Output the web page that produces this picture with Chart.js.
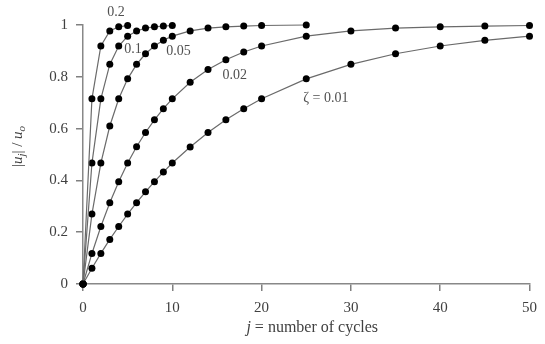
<!DOCTYPE html>
<html><head><meta charset="utf-8">
<script src="https://cdn.jsdelivr.net/npm/chart.js@4/dist/chart.umd.min.js"></script>
<style>html,body{margin:0;padding:0;background:#fff}</style>
</head><body>
<canvas id="c" width="545" height="344"></canvas>
<script>
// cycles j and |u_j|/u_o values
const j02 = [0,1,2,3,4,5];
const v02 = [0,0.715,0.919,0.977,0.993,0.998];
const j01 = [0,1,2,3,4,5,6,7,8,9,10];
const v01 = [0,0.467,0.715,0.848,0.919,0.957,0.977,0.988,0.993,0.996,0.998];
const j005 = [0,1,2,3,4,5,6,7,8,9,10,12,14,16,18,20,25];
const v005 = [0,0.270,0.467,0.610,0.715,0.792,0.848,0.889,0.919,0.941,0.957,0.977,0.988,0.993,0.996,0.998,1.0];
const j002 = [0,1,2,3,4,5,6,7,8,9,10,12,14,16,18,20,25,30,35,40,45,50];
const v002 = [0,0.118,0.222,0.314,0.395,0.467,0.530,0.585,0.634,0.677,0.715,0.779,0.828,0.866,0.896,0.919,0.957,0.977,0.988,0.993,0.996,0.998];
const j001 = [0,1,2,3,4,5,6,7,8,9,10,12,14,16,18,20,25,30,35,40,45,50];
const v001 = [0,0.061,0.118,0.172,0.222,0.270,0.314,0.356,0.395,0.432,0.467,0.529,0.585,0.634,0.677,0.715,0.792,0.848,0.889,0.919,0.941,0.957];
const xTicks = [0,10,20,30,40,50];
const yTicks = [0,0.2,0.4,0.6,0.8,1];
const yTickLabels = ['0','0.2','0.4','0.6','0.8','1'];
// curve labels (text, j, value)
const curveLabels = [
  {t:'0.2', x:3.7, y:1.05},
  {t:'0.1', x:5.6, y:0.905},
  {t:'0.05', x:10.7, y:0.90},
  {t:'0.02', x:17.0, y:0.805},
  {t:'\u03B6 = 0.01', x:27.2, y:0.715}
];

const series = [[j02,v02],[j01,v01],[j005,v005],[j002,v002],[j001,v001]];
const datasets = series.map(([js,vs]) => ({
  data: js.map((x,i)=>({x, y: vs[i]})),
  borderColor:'#6a6a6a', borderWidth:1.2, tension:0,
  pointRadius:3.5, pointBackgroundColor:'#000', pointBorderColor:'#000', pointBorderWidth:0,
  clip:false
}));

const SERIF = '"Liberation Serif", "DejaVu Serif", serif';
const textPlugin = {
  id:'texts',
  afterDraw(chart){
    const ctx = chart.ctx, xs = chart.scales.x, ys = chart.scales.y;
    ctx.save();
    ctx.fillStyle = '#505050';
    ctx.font = '14px ' + SERIF;
    ctx.textAlign = 'center'; ctx.textBaseline = 'middle';
    curveLabels.forEach(l => ctx.fillText(l.t, xs.getPixelForValue(l.x), ys.getPixelForValue(l.y)));
    ctx.fillStyle = '#404040';
    // x title
    const parts = [['italic 16px '+SERIF,'j'],['16px '+SERIF,' = number of cycles']];
    let w = 0; parts.forEach(p=>{ctx.font=p[0]; w+=ctx.measureText(p[1]).width;});
    let x = (chart.chartArea.left+chart.chartArea.right)/2 + 6 - w/2;
    ctx.textAlign='left'; ctx.textBaseline='alphabetic';
    parts.forEach(p=>{ctx.font=p[0]; ctx.fillText(p[1], x, 332); x+=ctx.measureText(p[1]).width;});
    // y title, rotated
    const yp = [['15px '+SERIF,'|',0],['italic 15px '+SERIF,'u',0],['italic 11px '+SERIF,'j',3],['15px '+SERIF,'| / ',0],['italic 15px '+SERIF,'u',0],['italic 11px '+SERIF,'o',3]];
    w=0; yp.forEach(p=>{ctx.font=p[0]; w+=ctx.measureText(p[1]).width;});
    ctx.translate(22, (chart.chartArea.top+chart.chartArea.bottom)/2 - 8);
    ctx.rotate(-Math.PI/2);
    x = -w/2;
    yp.forEach(p=>{ctx.font=p[0]; ctx.fillText(p[1], x, p[2]); x+=ctx.measureText(p[1]).width;});
    ctx.restore();
  }
};

new Chart(document.getElementById('c'), {
  type:'line',
  data:{datasets},
  options:{
    responsive:false, devicePixelRatio:1, animation:false,
    plugins:{legend:{display:false}, tooltip:{enabled:false}},
    layout:{padding:{top:25,right:8,left:0,bottom:0}},
    scales:{
      x:{type:'linear', min:0, max:50,
         afterBuildTicks: s => { s.ticks = xTicks.map(v=>({value:v})); },
         afterFit: s => { s.height = 60; },
         ticks:{color:'#404040', font:{family:SERIF, size:15}, padding:8, maxRotation:0},
         grid:{display:true, drawOnChartArea:false, drawTicks:true, tickLength:7, color:'#808080', tickColor:'#808080', lineWidth:1.5, tickWidth:1.5},
         border:{display:true, color:'#888', width:1.5}},
      y:{type:'linear', min:0, max:1,
         afterBuildTicks: s => { s.ticks = yTicks.map(v=>({value:v})); },
         afterFit: s => { s.width = 83; },
         ticks:{color:'#404040', font:{family:SERIF, size:15}, padding:8,
                callback:(v,i)=>yTickLabels[i]},
         grid:{display:true, drawOnChartArea:false, drawTicks:true, tickLength:7, color:'#808080', tickColor:'#808080', lineWidth:1.5, tickWidth:1.5},
         border:{display:true, color:'#888', width:1.5}}
    }
  },
  plugins:[textPlugin]
});
</script>
</body></html>
